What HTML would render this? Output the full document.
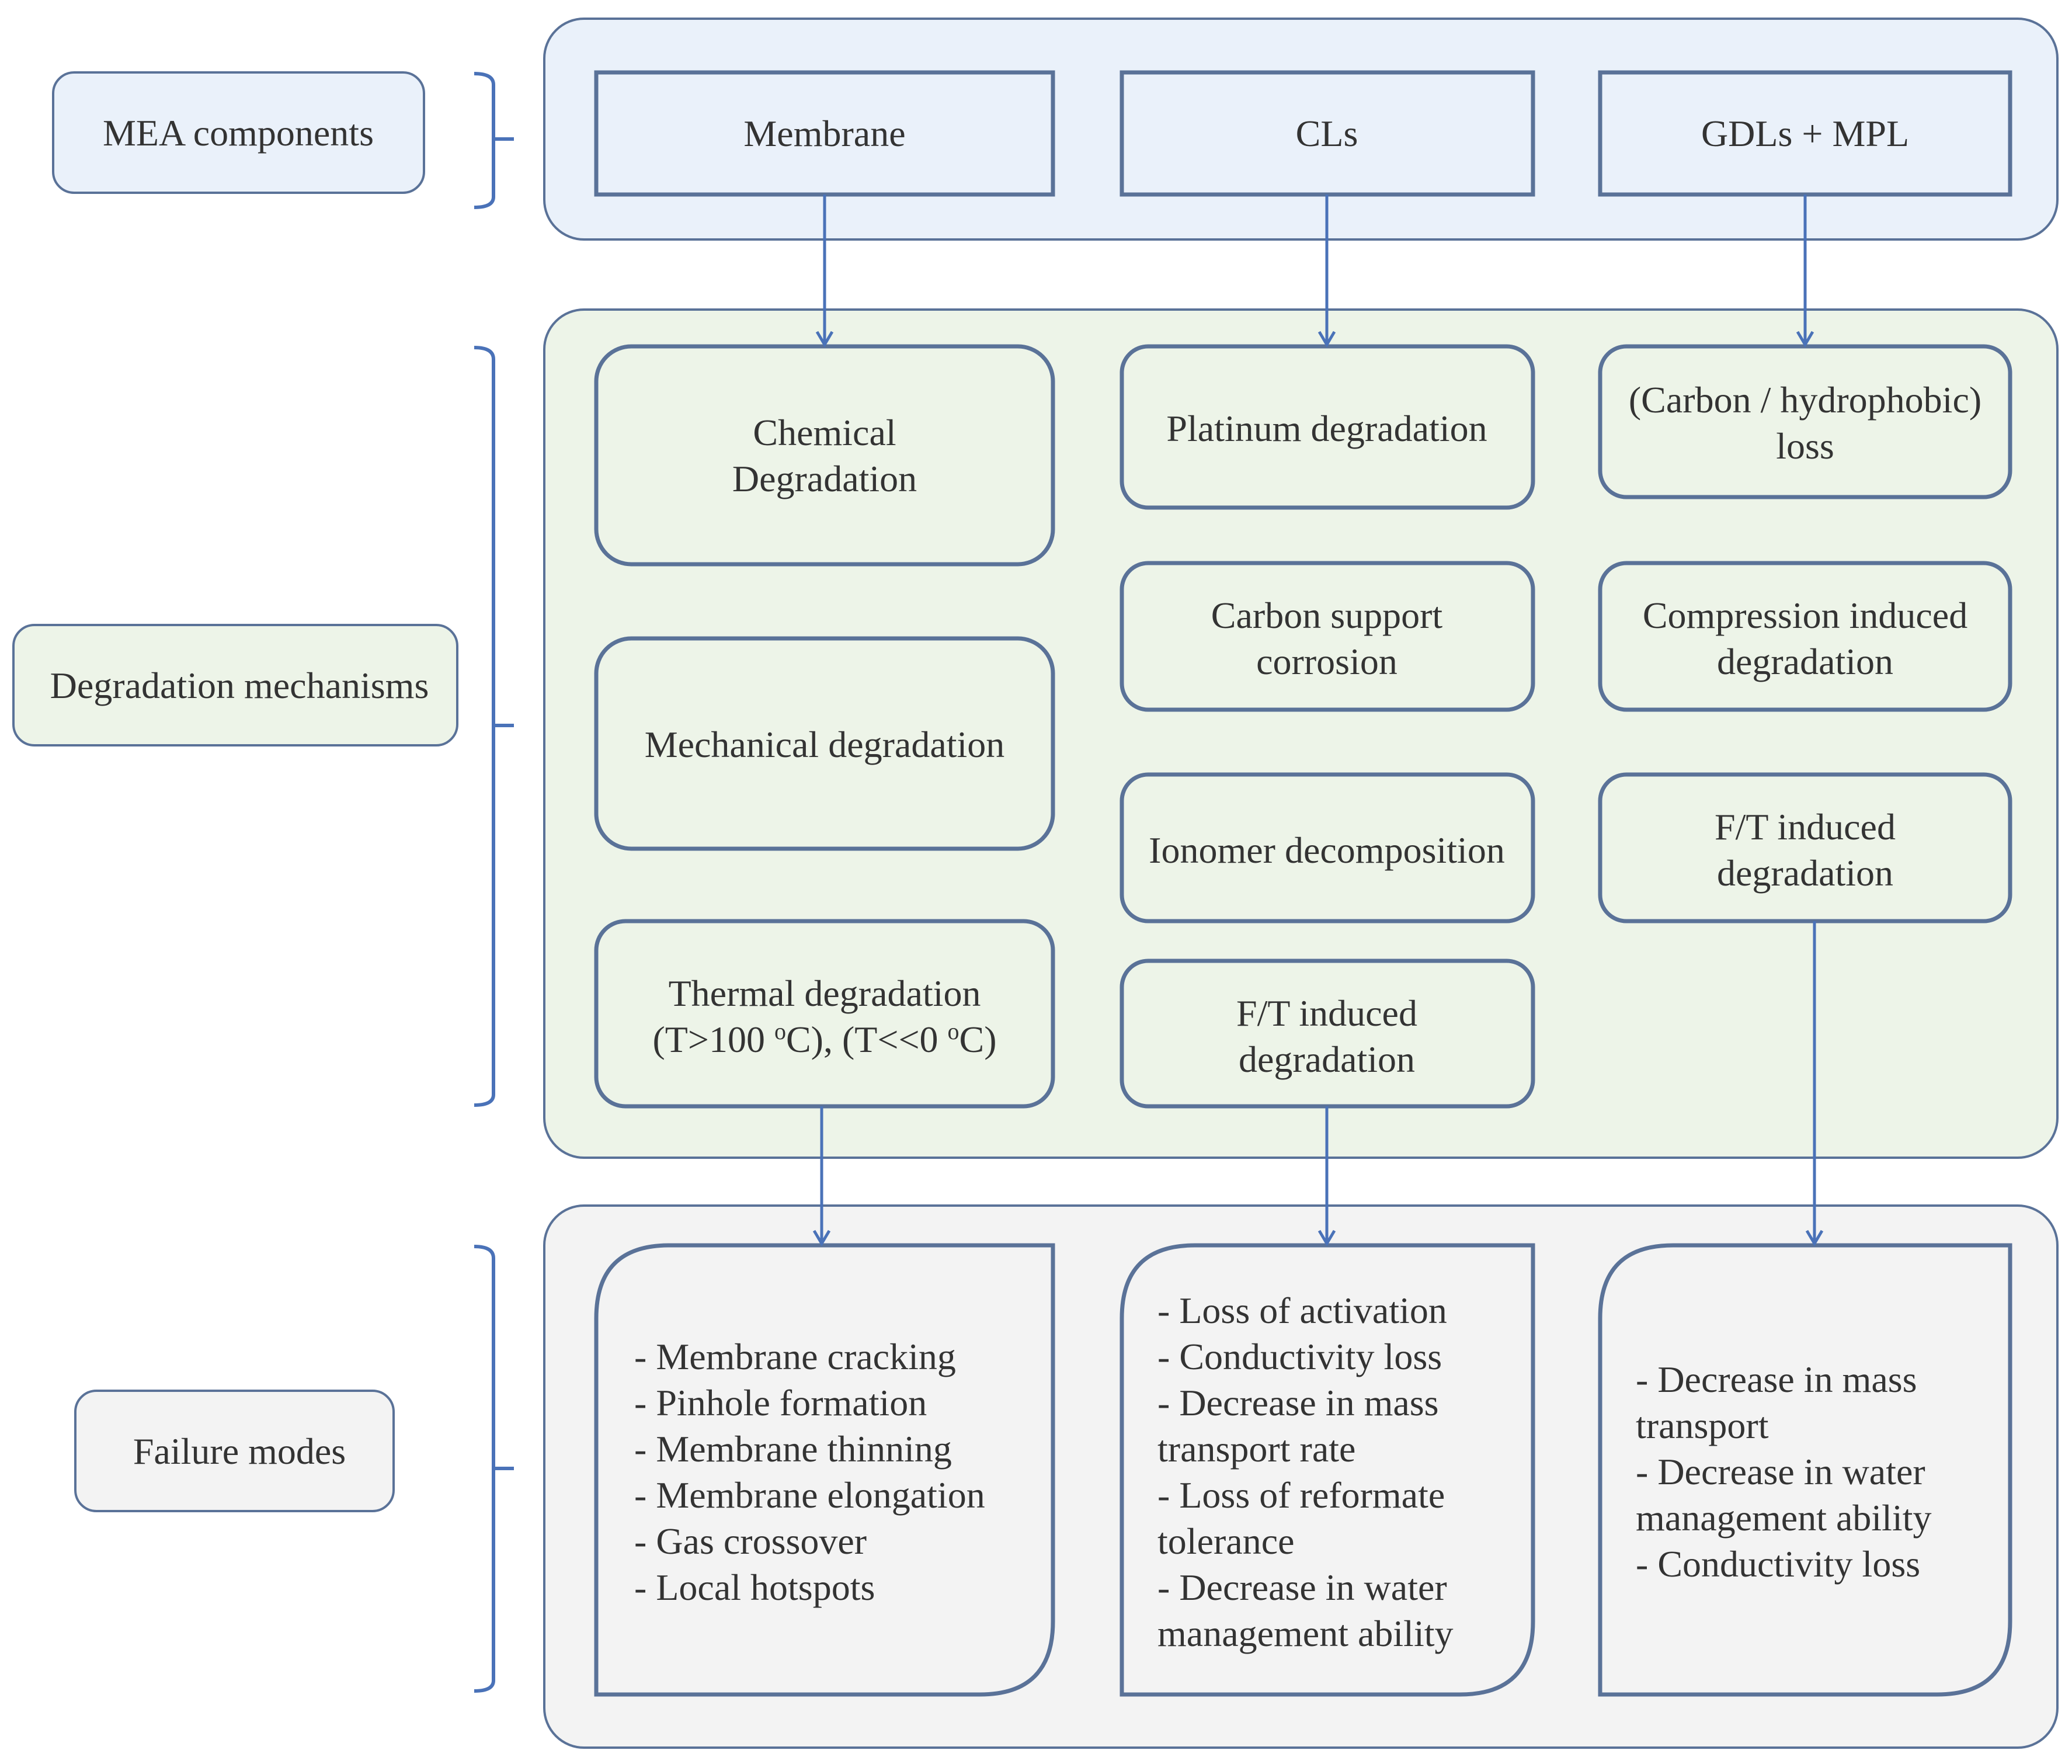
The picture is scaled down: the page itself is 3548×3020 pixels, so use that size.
<!DOCTYPE html>
<html><head><meta charset="utf-8"><style>
html,body{margin:0;padding:0;background:#fff;}
svg{display:block;}
text{font-family:"Liberation Serif",serif;font-size:64px;fill:#333;}
</style></head><body>
<svg width="3548" height="3020" viewBox="0 0 3548 3020" xmlns="http://www.w3.org/2000/svg">
<defs>
<marker id="ar" markerWidth="34" markerHeight="34" refX="28" refY="17" orient="auto" markerUnits="userSpaceOnUse">
<path d="M6,4 L28,17 L6,30" fill="none" stroke="#4a72b8" stroke-width="5"/>
</marker>
</defs>
<!-- containers -->
<rect x="932" y="32" width="2591" height="378" rx="68" fill="#eaf1fa" stroke="#5a7298" stroke-width="4"/>
<rect x="932" y="530" width="2591" height="1452" rx="68" fill="#edf4e8" stroke="#5a7298" stroke-width="4"/>
<rect x="932" y="2064" width="2591" height="928" rx="68" fill="#f3f3f3" stroke="#5a7298" stroke-width="4"/>
<!-- left labels -->
<rect x="91" y="124" width="635" height="206" rx="36" fill="#eaf1fa" stroke="#5a7298" stroke-width="4"/>
<text x="408" y="249" text-anchor="middle">MEA components</text>
<rect x="23" y="1070" width="760" height="206" rx="36" fill="#edf4e8" stroke="#5a7298" stroke-width="4"/>
<text x="410" y="1195" text-anchor="middle">Degradation mechanisms</text>
<rect x="129" y="2381" width="545" height="206" rx="36" fill="#f3f3f3" stroke="#5a7298" stroke-width="4"/>
<text x="410" y="2506" text-anchor="middle">Failure modes</text>
<!-- brackets -->
<g fill="none" stroke="#4a72b8" stroke-width="6">
<path d="M812,126 Q845,126 845,145 L845,337 Q845,355 812,355 M845,238 L880,238"/>
<path d="M812,595 Q845,595 845,615 L845,1874 Q845,1892 812,1892 M845,1242 L880,1242"/>
<path d="M812,2134 Q845,2134 845,2154 L845,2877 Q845,2895 812,2895 M845,2514 L880,2514"/>
</g>
<!-- top boxes -->
<g fill="#eaf1fa" stroke="#5a7298" stroke-width="7">
<rect x="1021" y="124" width="782" height="209"/>
<rect x="1921" y="124" width="704" height="209"/>
<rect x="2740" y="124" width="702" height="209"/>
</g>
<text x="1412" y="250" text-anchor="middle">Membrane</text>
<text x="2272" y="250" text-anchor="middle">CLs</text>
<text x="3091" y="250" text-anchor="middle">GDLs + MPL</text>
<!-- mechanism boxes -->
<g fill="#edf4e8" stroke="#5a7298" stroke-width="7">
<rect x="1021" y="593" width="782" height="373" rx="60"/>
<rect x="1021" y="1093" width="782" height="360" rx="60"/>
<rect x="1021" y="1577" width="782" height="317" rx="50"/>
<rect x="1921" y="593" width="704" height="276" rx="45"/>
<rect x="1921" y="964" width="704" height="251" rx="45"/>
<rect x="1921" y="1326" width="704" height="251" rx="45"/>
<rect x="1921" y="1645" width="704" height="249" rx="45"/>
<rect x="2740" y="593" width="702" height="258" rx="45"/>
<rect x="2740" y="964" width="702" height="251" rx="45"/>
<rect x="2740" y="1326" width="702" height="251" rx="45"/>
</g>
<g text-anchor="middle">
<text x="1412" y="762">Chemical</text>
<text x="1412" y="841">Degradation</text>
<text x="1412" y="1296">Mechanical degradation</text>
<text x="1412" y="1722">Thermal degradation</text>
<text x="1412" y="1801">(T&gt;100 <tspan font-size="40" dy="-22">o</tspan><tspan dy="22">C), (T&lt;&lt;0 </tspan><tspan font-size="40" dy="-22">o</tspan><tspan dy="22">C)</tspan></text>
<text x="2272" y="755">Platinum degradation</text>
<text x="2272" y="1075">Carbon support</text>
<text x="2272" y="1154">corrosion</text>
<text x="2272" y="1477">Ionomer decomposition</text>
<text x="2272" y="1756">F/T induced</text>
<text x="2272" y="1835">degradation</text>
<text x="3091" y="706">(Carbon / hydrophobic)</text>
<text x="3091" y="785">loss</text>
<text x="3091" y="1075">Compression induced</text>
<text x="3091" y="1154">degradation</text>
<text x="3091" y="1437">F/T induced</text>
<text x="3091" y="1516">degradation</text>
</g>
<!-- failure boxes -->
<g fill="#f3f3f3" stroke="#5a7298" stroke-width="7">
<path d="M1146,2132 L1803,2132 L1803,2776 Q1803,2901 1678,2901 L1021,2901 L1021,2257 Q1021,2132 1146,2132 Z"/>
<path d="M2046,2132 L2625,2132 L2625,2776 Q2625,2901 2500,2901 L1921,2901 L1921,2257 Q1921,2132 2046,2132 Z"/>
<path d="M2865,2132 L3442,2132 L3442,2776 Q3442,2901 3317,2901 L2740,2901 L2740,2257 Q2740,2132 2865,2132 Z"/>
</g>
<g>
<text x="1086" y="2344">- Membrane cracking</text>
<text x="1086" y="2423">- Pinhole formation</text>
<text x="1086" y="2502">- Membrane thinning</text>
<text x="1086" y="2581">- Membrane elongation</text>
<text x="1086" y="2660">- Gas crossover</text>
<text x="1086" y="2739">- Local hotspots</text>
<text x="1982" y="2265">- Loss of activation</text>
<text x="1982" y="2344">- Conductivity loss</text>
<text x="1982" y="2423">- Decrease in mass</text>
<text x="1982" y="2502">transport rate</text>
<text x="1982" y="2581">- Loss of reformate</text>
<text x="1982" y="2660">tolerance</text>
<text x="1982" y="2739">- Decrease in water</text>
<text x="1982" y="2818">management ability</text>
<text x="2801" y="2383">- Decrease in mass</text>
<text x="2801" y="2462">transport</text>
<text x="2801" y="2541">- Decrease in water</text>
<text x="2801" y="2620">management ability</text>
<text x="2801" y="2699">- Conductivity loss</text>
</g>
<!-- arrows -->
<g stroke="#4a72b8" stroke-width="5" fill="none" marker-end="url(#ar)">
<line x1="1412" y1="333" x2="1412" y2="590"/>
<line x1="2272" y1="333" x2="2272" y2="590"/>
<line x1="3091" y1="333" x2="3091" y2="590"/>
<line x1="1407" y1="1894" x2="1407" y2="2129"/>
<line x1="2272" y1="1894" x2="2272" y2="2129"/>
<line x1="3107" y1="1577" x2="3107" y2="2129"/>
</g>
</svg>
</body></html>
